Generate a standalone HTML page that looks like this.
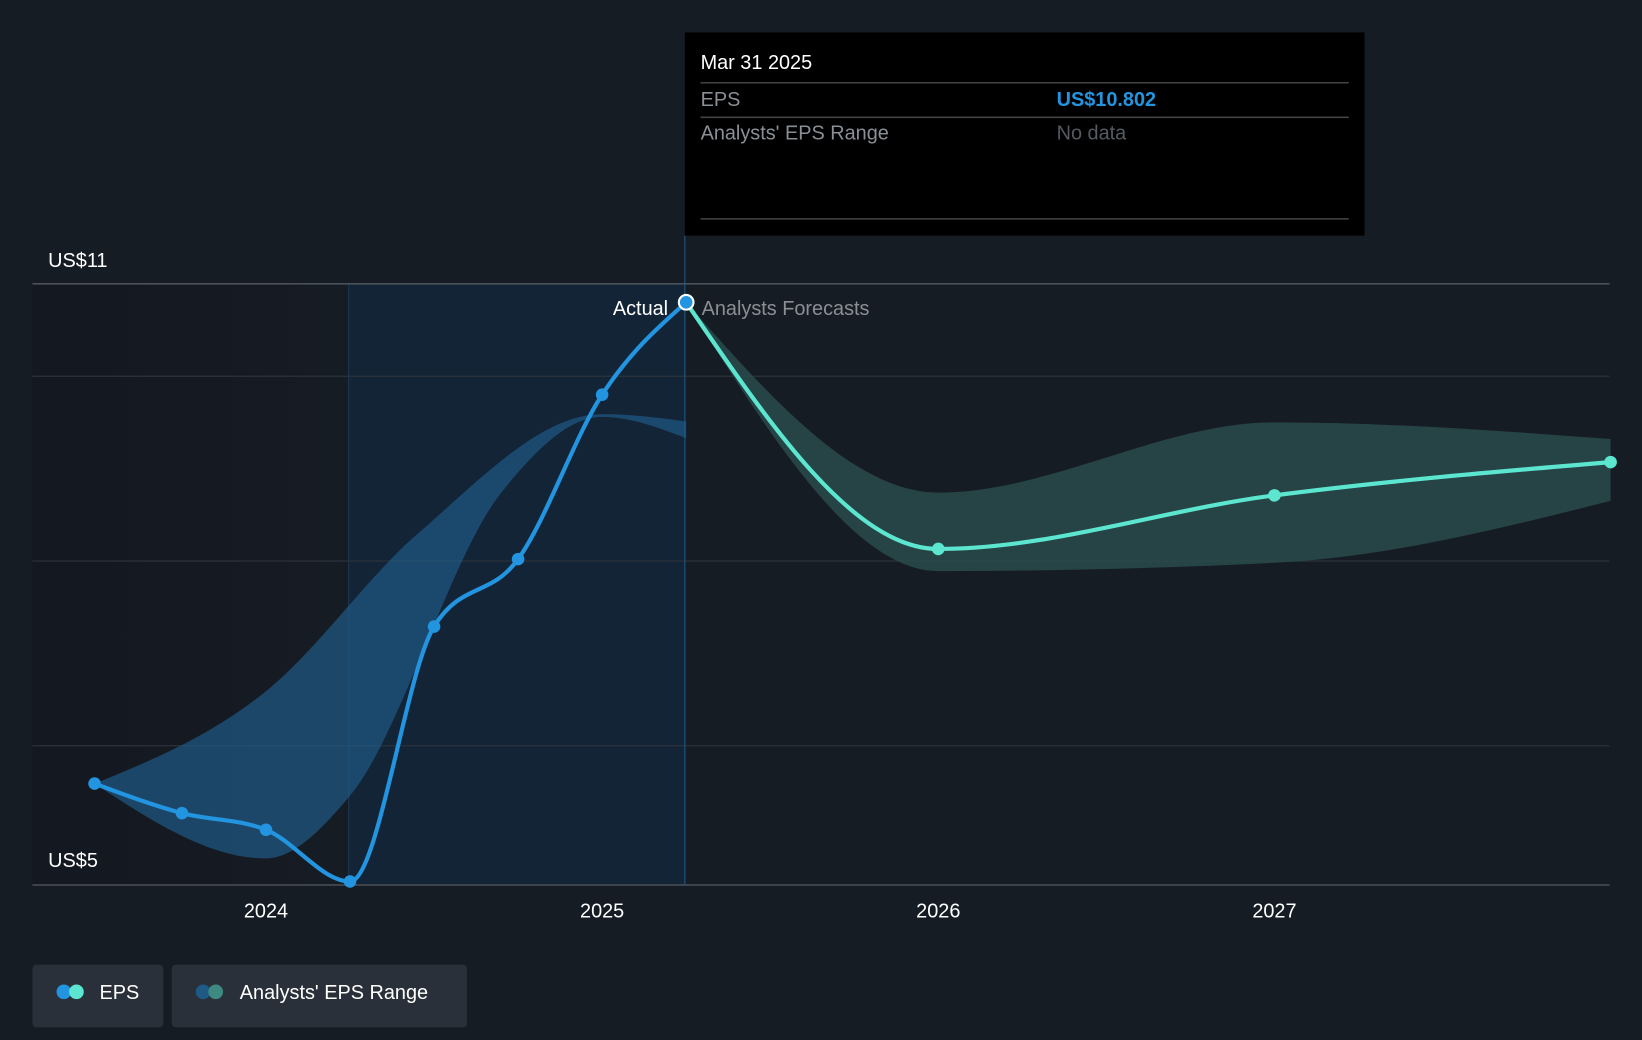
<!DOCTYPE html>
<html><head><meta charset="utf-8"><style>
html,body{margin:0;padding:0;background:#161c24;}
svg{display:block;font-family:"Liberation Sans",sans-serif;}
</style></head><body>
<svg id="chart" width="1642" height="1040" viewBox="0 0 1568 993" preserveAspectRatio="none" xmlns="http://www.w3.org/2000/svg">
<rect x="0" y="0" width="1568" height="993" fill="#161c24"/>
<defs>
<linearGradient id="pastBg" x1="0" x2="1" y1="0" y2="0"><stop offset="0" stop-color="#141820"/><stop offset="1" stop-color="#161c24"/></linearGradient>
</defs>
<rect x="31" y="271" width="302" height="574" fill="url(#pastBg)"/>
<rect x="333" y="271" width="321" height="574" fill="#132436"/>
<line x1="333" y1="271" x2="333" y2="845" stroke="#1d3a55" stroke-width="1"/>
<g id="grid"></g>
<g id="bands"></g>
<line x1="654" y1="225" x2="654" y2="845" stroke="#1f5a86" stroke-width="1"/>
<g id="lines"></g>
<text x="46" y="255" fill="#fff" font-size="19">US$11</text>
<text x="46" y="828" fill="#fff" font-size="19">US$5</text>
<text x="638" y="301" fill="#fff" font-size="19" text-anchor="end">Actual</text>
<text x="670" y="301" fill="#8a8f96" font-size="19">Analysts Forecasts</text>
<g id="xticks"></g>
<g>
<rect x="654" y="31" width="649" height="194" fill="#000"/>
<text x="669" y="66" fill="#fff" font-size="19">Mar 31 2025</text>
<line x1="669" y1="79" x2="1288" y2="79" stroke="#444" stroke-width="1.5"/>
<text x="669" y="101" fill="#8a8f96" font-size="19">EPS</text>
<text x="1009" y="101" fill="#2394df" font-size="19" font-weight="bold">US$10.802</text>
<line x1="669" y1="112" x2="1288" y2="112" stroke="#444" stroke-width="1.5"/>
<text x="669" y="133" fill="#8a8f96" font-size="19">Analysts' EPS Range</text>
<text x="1009" y="133" fill="#555a60" font-size="19">No data</text>
<line x1="669" y1="209" x2="1288" y2="209" stroke="#444" stroke-width="1.5"/>
</g>
<g>
<rect x="31" y="921" width="125" height="60" rx="4" fill="#2a303a"/>
<circle cx="61" cy="947" r="7" fill="#2394df"/><circle cx="73" cy="947" r="7" fill="#5ce6d0"/>
<text x="95" y="954" fill="#fff" font-size="19">EPS</text>
</g>
<g>
<rect x="164" y="921" width="282" height="60" rx="4" fill="#2a303a"/>
<circle cx="194" cy="947" r="7" fill="#1f5a86"/><circle cx="206" cy="947" r="7" fill="#3f8a80"/>
<text x="229" y="954" fill="#fff" font-size="19">Analysts' EPS Range</text>
</g>
</svg>
<script>
const gridValues=[11,10,8,6];
const xTickYears=[2024,2025,2026,2027];
const xTickLabels=["2024","2025","2026","2027"];
const pastDates=[2023.49,2023.75,2024.0,2024.25,2024.5,2024.75,2025.0,2025.25];
const pastEps=[5.59,5.27,5.09,4.53,7.29,8.02,9.80,10.80];
const fcDates=[2025.25,2026.0,2027.0,2028.0];
const fcEps=[10.80,8.13,8.71,9.07];
const pastBandDates=[2023.49,2024.0,2024.45,2025.0,2025.25];
const pastBandHigh=[5.59,6.59,8.29,9.59,9.51];
const pastBandLowDates=[2023.49,2024.0,2024.25,2024.7,2025.0,2025.25];
const pastBandLow=[5.59,4.78,5.46,8.74,9.56,9.33];
const fcBandDates=[2025.25,2026.0,2027.0,2028.0];
const fcBandHigh=[10.80,8.74,9.50,9.32];
const fcBandLow=[10.80,7.89,7.98,8.65];

const X=t=>254+(t-2024)*321;
const Y=v=>271+(11-v)*88.2;
const NS="http://www.w3.org/2000/svg";
function pts(ds,vs){return ds.map((d,i)=>[X(d),Y(vs[i])]);}
function sign(v){return v<0?-1:1;}
function smooth(p,move){
  const n=p.length,t=new Array(n),s=[];
  for(let i=0;i<n-1;i++)s.push((p[i+1][1]-p[i][1])/(p[i+1][0]-p[i][0]));
  for(let i=1;i<n-1;i++){
    const h0=p[i][0]-p[i-1][0],h1=p[i+1][0]-p[i][0],s0=s[i-1],s1=s[i];
    const q=(s0*h1+s1*h0)/(h0+h1);
    t[i]=(sign(s0)+sign(s1))*Math.min(Math.abs(s0),Math.abs(s1),0.5*Math.abs(q))||0;
  }
  if(n>2){t[0]=(3*s[0]-t[1])/2;t[n-1]=(3*s[n-2]-t[n-2])/2;}else{t[0]=t[1]=s[0];}
  let d=(move?"M":"L")+p[0][0]+","+p[0][1];
  for(let i=0;i<n-1;i++){
    const dx=(p[i+1][0]-p[i][0])/3;
    d+=" C"+(p[i][0]+dx)+","+(p[i][1]+dx*t[i])+" "+(p[i+1][0]-dx)+","+(p[i+1][1]-dx*t[i+1])+" "+p[i+1][0]+","+p[i+1][1];
  }
  return d;
}
function smoothRev(p){
  // draw reversed path of points p (given in increasing x)
  const n=p.length,t=new Array(n),s=[];
  for(let i=0;i<n-1;i++)s.push((p[i+1][1]-p[i][1])/(p[i+1][0]-p[i][0]));
  for(let i=1;i<n-1;i++){
    const h0=p[i][0]-p[i-1][0],h1=p[i+1][0]-p[i][0],s0=s[i-1],s1=s[i];
    const q=(s0*h1+s1*h0)/(h0+h1);
    t[i]=(sign(s0)+sign(s1))*Math.min(Math.abs(s0),Math.abs(s1),0.5*Math.abs(q))||0;
  }
  if(n>2){t[0]=(3*s[0]-t[1])/2;t[n-1]=(3*s[n-2]-t[n-2])/2;}else{t[0]=t[1]=s[0];}
  let d="L"+p[n-1][0]+","+p[n-1][1];
  for(let i=n-1;i>0;i--){
    const dx=(p[i][0]-p[i-1][0])/3;
    d+=" C"+(p[i][0]-dx)+","+(p[i][1]-dx*t[i])+" "+(p[i-1][0]+dx)+","+(p[i-1][1]+dx*t[i-1])+" "+p[i-1][0]+","+p[i-1][1];
  }
  return d;
}
function el(tag,attrs,parent){const e=document.createElementNS(NS,tag);for(const k in attrs)e.setAttribute(k,attrs[k]);parent.appendChild(e);return e;}
const grid=document.getElementById('grid');
gridValues.forEach(v=>{
  const l=el('line',{x1:31,x2:1537,y1:Y(v),y2:Y(v),stroke:v===11?'#4a5058':'#2c323b','stroke-width':v===11?1.5:1.2},grid);
  
  
});
const base=el('line',{x1:31,x2:1537,y1:845,y2:845,stroke:'#4a5058','stroke-width':1.5},grid);


const xt=document.getElementById('xticks');
xTickYears.forEach((y,i)=>{
  const tx=el('text',{x:X(y),y:876,fill:'#fff','font-size':19,'text-anchor':'middle'},xt);
  tx.textContent=xTickLabels[i];
  
  
});
const bands=document.getElementById('bands');
const hi=pts(pastBandDates,pastBandHigh),lo=pts(pastBandLowDates,pastBandLow);
const pb=el('path',{d:smooth(hi,true)+" "+smoothRev(lo)+"Z",fill:'#1f5a86','fill-opacity':0.7},bands);


const fh=pts(fcBandDates,fcBandHigh),fl=pts(fcBandDates,fcBandLow);
const fb=el('path',{d:smooth(fh,true)+" "+smoothRev(fl)+"Z",fill:'#2b4d4f','fill-opacity':0.8},bands);


const lines=document.getElementById('lines');
const fp=pts(fcDates,fcEps);
const fline=el('path',{d:smooth(fp,true),fill:'none',stroke:'#5ce6d0','stroke-width':4},lines);


const pp=pts(pastDates,pastEps);
const pline=el('path',{d:smooth(pp,true),fill:'none',stroke:'#2394df','stroke-width':4},lines);


fp.slice(1).forEach(p=>{
  const c=el('circle',{cx:p[0],cy:p[1],r:6,fill:'#5ce6d0'},lines);
  
  
});
pp.forEach((p,i)=>{
  const last=i===pp.length-1;
  const c=el('circle',{cx:p[0],cy:p[1],r:last?7:6,fill:'#2394df',stroke:last?'#fff':'none','stroke-width':2},lines);
  
  
});
</script>
</body></html>
